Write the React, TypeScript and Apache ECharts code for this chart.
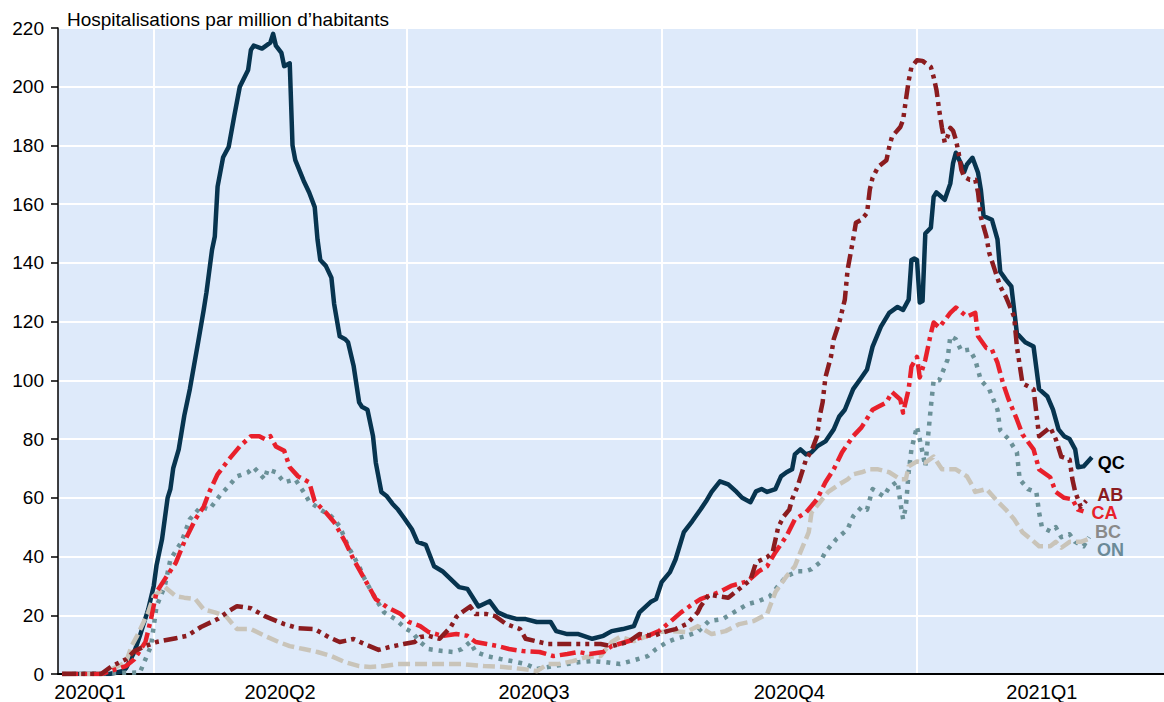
import React, { useEffect, useRef } from "react";
import * as echarts from "echarts";

// x values: day of year counted from 2020-01-01 (Apr 1 2020 = 91, Jan 1 2021 = 366)
const quarterBoundaryDays = [91, 182, 274, 366];
const quarterLabelDays = [68, 136.5, 228, 320, 411];
const quarterLabels = ["2020Q1", "2020Q2", "2020Q3", "2020Q4", "2021Q1"];

const titleText = "Hospitalisations par million d\u2019habitants";

const qcData: [number, number][] = [
  [58, 0], [75, 0], [80, 1], [81, 2], [84, 7.5], [86, 13], [89, 22], [91, 30], [92, 37], [94, 46], [95, 53], [96, 60], [97, 63], [98, 70],
  [100, 76.5], [102, 88], [104, 97], [107, 113], [109, 124], [110, 130], [112, 144.5], [113, 149], [114, 166], [116, 176], [118, 179.5],
  [120, 190], [122, 200], [125, 205.7], [126, 212.5], [127, 214], [130, 213], [133, 215], [134, 218], [135, 214], [137, 211.5], [138, 207],
  [140, 208], [141, 180], [142, 175], [145, 168], [147, 164], [149, 159], [150, 148], [151, 141], [153, 139], [155, 135], [156, 126],
  [158, 115], [160, 114], [161, 113], [163, 105], [165, 92.5], [166, 91], [168, 90], [170, 81], [171, 72], [173, 62], [175, 60.5],
  [177, 58], [179, 56], [181, 53.4], [184, 49.3], [186, 45], [189, 44], [192, 36.7], [195, 35], [198, 32.3], [201, 29.6], [204, 29],
  [208, 23], [212, 24.8], [215, 21], [218, 19.7], [222, 18.7], [225, 18.7], [229, 17.7], [234, 17.7], [236, 14.6], [240, 13.6],
  [244, 13.6], [249, 12], [253, 13], [256, 14.6], [260, 15.3], [264, 16.3], [266, 21], [270, 24.5], [272, 25.5], [274, 31.3],
  [277, 34.7], [279, 39], [282, 48.3], [285, 52], [288, 56], [290, 58.8], [292, 62], [295, 65.6], [298, 64.6], [301, 62], [303, 60],
  [306, 58.5], [308, 62.2], [310, 63], [312, 62], [315, 63], [317, 67.3], [319, 68.7], [321, 69.7], [322, 74.8], [324, 76.5],
  [326, 74.8], [328, 75.5], [330, 77.5], [333, 79.2], [336, 83.3], [338, 87.7], [340, 90], [343, 97], [346, 101], [348, 103.7],
  [350, 111.5], [353, 118.3], [356, 123], [359, 125], [361, 124], [363, 127.5], [364, 141], [365, 141.5], [366, 141], [367, 126.5],
  [368, 127], [369, 150], [371, 152], [372, 162.5], [373, 164], [376, 161.5], [378, 167], [379, 174], [380, 177.5], [382, 173.5],
  [383, 171], [384, 173.5], [386, 175.8], [388, 170.7], [389, 165], [390, 156], [393, 154.7], [395, 148], [396, 137], [398, 134.3],
  [400, 132], [402, 116], [405, 113], [408, 111.5], [410, 97], [413, 94.5], [415, 90], [417, 83.3], [419, 81], [421, 80], [423, 76.5],
  [424, 70.4], [426, 70.7], [429, 73.8],
];

const abData: [number, number][] = [
  [58, 0], [72, 0], [76, 2.7], [81, 5], [84, 7.8], [88, 9.5], [92, 10.9], [99, 12.2], [103, 13], [108, 16], [114, 18.7], [118, 21.4],
  [121, 23.1], [126, 22.4], [131, 19.7], [138, 17], [143, 15.6], [149, 15.3], [154, 12.6], [158, 10.9], [163, 11.9], [167, 10.2],
  [172, 8.2], [176, 9.2], [181, 10.2], [185, 10.9], [187, 12.6], [190, 13], [194, 12], [198, 16], [200, 19.4], [202, 21], [205, 23],
  [207, 20.4], [211, 20.4], [214, 19.7], [218, 17], [223, 15.3], [225, 12], [233, 10.2], [240, 10.2], [244, 10.2], [252, 10.2],
  [256, 9.5], [262, 10.9], [266, 13.6], [271, 13], [276, 14.6], [279, 15.3], [283, 17], [287, 21], [288, 23], [291, 27], [298, 26],
  [302, 29], [306, 32], [308, 38], [312, 39.8], [314, 41.5], [316, 50], [318, 53.7], [320, 56], [321, 59.5], [323, 64], [326, 73],
  [328, 76], [330, 81], [331, 88], [332, 92.5], [333, 101], [335, 108], [336, 114], [338, 119.7], [340, 127.5], [341, 137.7],
  [343, 148], [344, 153.7], [346, 154.7], [348, 157], [349, 165], [350, 169], [352, 172.7], [355, 175], [356, 179.5], [357, 183],
  [360, 186.3], [361, 188.7], [362, 195.5], [363, 202], [364, 206.7], [366, 209], [368, 208.8], [370, 207.4], [371, 206.7],
  [372, 203.3], [373, 199], [374, 192], [375, 186], [376, 181], [377, 183], [378, 186], [379, 185], [380, 182], [381, 177.5],
  [382, 171.7], [383, 169.3], [385, 168.3], [387, 168.3], [388, 164], [389, 155.7], [391, 149], [392, 143.5], [394, 137.7], [396, 132],
  [398, 128.5], [401, 121.7], [402, 111.5], [404, 99], [408, 97], [409, 89], [410, 81], [414, 84], [416, 80], [418, 74], [421, 73],
  [422, 66.3], [423, 62], [425, 57], [427, 59],
];

const caData: [number, number][] = [
  [58, 0], [72, 0], [74, 0.6], [81, 2.7], [84, 5], [88, 10.9], [90, 18.7], [92, 27.9], [95, 32.3], [99, 38], [102, 45], [106, 52.7],
  [109, 57], [111, 62], [114, 68], [118, 73], [122, 77.5], [126, 81], [129, 81], [131, 80], [133, 81], [135, 77.5], [138, 76],
  [140, 70.4], [143, 67.3], [147, 65.3], [149, 58.8], [153, 55], [156, 51.7], [160, 45], [163, 39], [167, 32.3], [171, 25.5],
  [175, 22.8], [180, 20.4], [183, 17.7], [187, 16.3], [190, 14.3], [195, 13], [200, 13.6], [204, 13], [207, 10.9], [211, 10.2],
  [215, 9.5], [219, 8.5], [224, 7.8], [230, 7.5], [235, 6.1], [240, 6.8], [244, 7.5], [248, 6.8], [253, 7.5], [256, 9.5], [261, 10.9],
  [265, 12], [269, 13], [273, 14.6], [277, 17.7], [281, 21], [284, 23], [288, 25.5], [295, 28], [299, 30], [305, 31.6], [309, 35],
  [312, 36.7], [315, 41.5], [319, 47], [322, 52.7], [326, 55], [330, 59.5], [333, 65.3], [336, 69.7], [339, 75.5], [343, 81],
  [346, 84], [350, 90], [352, 91], [355, 92.5], [357, 96], [360, 93.5], [361, 89], [363, 97], [364, 104.7], [366, 108], [367, 101],
  [369, 107], [371, 116], [372, 119.7], [374, 118], [378, 123], [380, 124.8], [384, 121.7], [387, 123], [388, 115], [391, 111],
  [393, 110.5], [395, 106], [397, 99], [399, 93.5], [402, 86.7], [404, 81.6], [408, 76.5], [410, 69.7], [414, 67], [416, 62],
  [419, 60], [422, 59.5], [424, 56], [426, 55.4],
];

const onData: [number, number][] = [
  [58, 0], [86, 0.5], [90, 9.5], [91, 16.3], [92, 23], [95, 30], [97, 39], [101, 45], [104, 52.7], [108, 57], [111, 56], [115, 61],
  [118, 64], [121, 67.3], [125, 68.7], [127, 70.4], [131, 66.3], [132, 69.7], [135, 68.7], [138, 65.3], [142, 66.3], [145, 62],
  [147, 58.8], [151, 56], [155, 53.7], [158, 50.3], [161, 43.5], [165, 36.7], [167, 32.3], [171, 25.5], [174, 21], [178, 18.7],
  [182, 15.3], [184, 14.3], [187, 10.9], [190, 8.5], [195, 7.8], [199, 7.5], [202, 8.5], [205, 10.9], [207, 7.5], [211, 6.1],
  [216, 5.1], [220, 4.4], [225, 3.4], [229, 1.7], [235, 2.7], [240, 3.4], [244, 4], [249, 4.4], [254, 4], [259, 3.4], [263, 4.4],
  [269, 6.1], [272, 8.5], [276, 10.9], [279, 12], [283, 13], [287, 14.3], [291, 18], [296, 18.7], [300, 21], [305, 23.8], [309, 24.8],
  [313, 26.5], [316, 30], [319, 33.3], [323, 35], [326, 35], [328, 35.7], [331, 38], [333, 41.5], [337, 46], [341, 49.3], [343, 53.7],
  [346, 56.8], [348, 56], [350, 63], [354, 60.5], [356, 63.6], [359, 65.6], [360, 58.5], [361, 52.7], [362, 57], [363, 68.7],
  [364, 76.5], [366, 84.3], [368, 75.5], [369, 70.7], [370, 81], [371, 91], [372, 100], [374, 100], [377, 107], [378, 115], [380, 114],
  [382, 110], [385, 110.5], [387, 107], [389, 100], [392, 97], [395, 90], [396, 83], [399, 80], [402, 75.5], [403, 66.3], [406, 63],
  [409, 62], [410, 55], [411, 50], [414, 48.6], [416, 50], [418, 46.6], [421, 47.6], [423, 45], [426, 43.5], [428, 46.6],
];

const bcData: [number, number][] = [
  [58, 0], [72, 0], [76, 1.7], [81, 4], [83, 9.5], [85, 13], [89, 21], [91, 26.5], [95, 29.6], [99, 26.5], [102, 26], [106, 25.5],
  [109, 22], [113, 21], [117, 19.7], [121, 15.3], [126, 15.3], [131, 13], [136, 10.9], [140, 9.5], [145, 8.5], [150, 7.5], [155, 6.1],
  [160, 4], [165, 2.7], [169, 2.4], [174, 2.7], [179, 3.4], [184, 3.4], [187, 3.4], [195, 3.4], [202, 3.4], [210, 2.7], [217, 2.4],
  [224, 1.7], [229, 1], [233, 3.4], [237, 3.4], [242, 4.4], [247, 5.8], [252, 6.1], [256, 10.9], [259, 12.6], [264, 11.2], [269, 13],
  [273, 14.3], [278, 14.6], [283, 14.3], [287, 16.3], [289, 15.3], [292, 13.6], [297, 14.6], [302, 17], [307, 18], [312, 20.4],
  [313, 23], [315, 27.9], [319, 33.3], [322, 36.7], [324, 41.5], [327, 48.3], [328, 55], [331, 58.5], [334, 62], [338, 64.6],
  [341, 66.3], [343, 68], [346, 68.7], [349, 69.7], [352, 69.7], [356, 68.7], [360, 66.3], [362, 66.3], [363, 70.7], [366, 72.4],
  [369, 72], [372, 74], [375, 69.7], [380, 69.7], [384, 67.3], [386, 64], [387, 62], [391, 63], [395, 58.8], [398, 56], [401, 52.7],
  [404, 48.3], [407, 46], [410, 43.5], [414, 43.5], [416, 45], [418, 43], [421, 45], [425, 45], [428, 46],
];

const FONT = "'Liberation Sans', Arial, sans-serif";

type Def = {
  name: string;
  data: [number, number][];
  color: string;
  dash: any;
  labelColor: string;
  offset: [number, number];
  z: number;
};

const defs: Def[] = [
  { name: "QC", data: qcData, color: "#07344f", dash: "solid", labelColor: "#000000", offset: [1, 6], z: 2 },
  { name: "ON", data: onData, color: "#6b9198", dash: [4, 6], labelColor: "#6b8a98", offset: [3, 13], z: 3 },
  { name: "BC", data: bcData, color: "#c9c4b9", dash: [12, 5], labelColor: "#8a8a8a", offset: [1, -7], z: 4 },
  { name: "CA", data: caData, color: "#e8202b", dash: [16, 5, 4, 5], labelColor: "#e8202b", offset: [3, 2], z: 5 },
  { name: "AB", data: abData, color: "#8b1c1f", dash: [14, 5, 4, 5, 4, 5], labelColor: "#8b1c1f", offset: [6, -6], z: 6 },
];

export default function App() {
  const ref = useRef<HTMLDivElement>(null);
  useEffect(() => {
    if (!ref.current) return;
    const chart = echarts.init(ref.current, undefined, { renderer: "svg" });
    const option: any = {
      animation: false,
      backgroundColor: "#ffffff",
      textStyle: { fontFamily: FONT },
      title: {
        text: titleText,
        left: 62,
        top: 5,
        textStyle: { fontFamily: FONT, fontSize: 19, fontWeight: "normal", color: "#000000" },
      },
      grid: {
        left: 58,
        right: 0,
        top: 28,
        bottom: 27,
        containLabel: false,
        show: true,
        backgroundColor: "#deeafa",
        borderWidth: 0,
      },
      xAxis: {
        type: "value",
        min: 56.5,
        max: 455,
        axisLine: { show: true, onZero: false, lineStyle: { color: "#000000", width: 2 } },
        axisTick: { show: false, customValues: quarterBoundaryDays },
        splitLine: { show: true, lineStyle: { color: "#ffffff", width: 2 } },
        axisLabel: {
          customValues: quarterLabelDays,
          margin: 8,
          fontSize: 20,
          color: "#000000",
          fontFamily: FONT,
          formatter: (v: number) => {
            const i = quarterLabelDays.indexOf(v);
            return i >= 0 ? quarterLabels[i] : "";
          },
        },
      },
      yAxis: {
        type: "value",
        min: 0,
        max: 220,
        interval: 20,
        axisLine: { show: true, lineStyle: { color: "#000000", width: 1.5 } },
        axisTick: { show: true, length: 7, lineStyle: { color: "#000000", width: 1.5 } },
        splitLine: { show: true, lineStyle: { color: "#ffffff", width: 2 } },
        axisLabel: { margin: 14, fontSize: 19, color: "#000000", fontFamily: FONT },
      },
      series: defs.map((d) => ({
        name: d.name,
        type: "line",
        data: d.data,
        showSymbol: false,
        symbol: "none",
        z: d.z,
        lineStyle: { color: d.color, width: 4.5, type: d.dash, cap: "butt", join: "round" },
        itemStyle: { color: d.color },
        endLabel: {
          show: true,
          formatter: d.name,
          color: d.labelColor,
          fontSize: 18,
          fontWeight: "bold",
          fontFamily: FONT,
          distance: 5,
          offset: d.offset,
        },
        emphasis: { disabled: true },
      })),
    };
    chart.setOption(option);
    return () => chart.dispose();
  }, []);
  return (
    <div
      ref={ref}
      style={{ position: "fixed", left: 0, top: 0, width: 1164, height: 702 }}
    />
  );
}
